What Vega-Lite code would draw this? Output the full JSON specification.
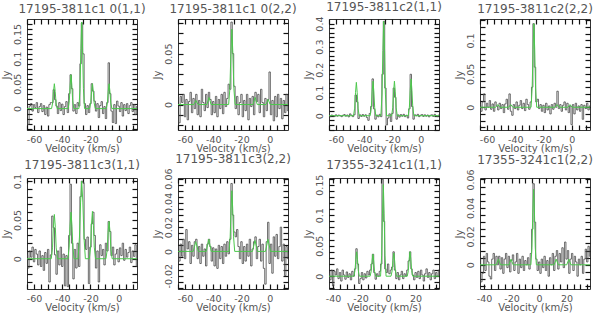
{
"$schema": "https://vega.github.io/schema/vega-lite/v6.json",
"background": "white",
"padding": {"left": 0, "top": 0, "right": 0, "bottom": 0},
"bounds": "flush",
"columns": 4,
"spacing": {"row": 48, "column": 41},
"datasets": {
"s1": [{"v":-65,"a":-0.025},{"v":-64,"a":-0.032},{"v":-63,"a":0.005},{"v":-62,"a":0.01},{"v":-61,"a":-0.005},{"v":-60,"a":0.008},{"v":-59,"a":0.002},{"v":-58,"a":0.012},{"v":-57,"a":-0.008},{"v":-56,"a":0.004},{"v":-55,"a":0.01},{"v":-54,"a":-0.006},{"v":-53,"a":0.006},{"v":-52,"a":-0.012},{"v":-51,"a":0.003},{"v":-50,"a":-0.015},{"v":-49,"a":0.008},{"v":-48,"a":0.012},{"v":-47,"a":0.012},{"v":-46,"a":0.038},{"v":-45,"a":0.018},{"v":-44,"a":0.005},{"v":-43,"a":-0.01},{"v":-42,"a":0.012},{"v":-41,"a":-0.004},{"v":-40,"a":0.009},{"v":-39,"a":-0.012},{"v":-38,"a":0.004},{"v":-37,"a":0.014},{"v":-36,"a":-0.008},{"v":-35,"a":0.03},{"v":-34,"a":0.068},{"v":-33,"a":0.04},{"v":-32,"a":-0.005},{"v":-31,"a":0.008},{"v":-30,"a":-0.01},{"v":-29,"a":0.012},{"v":-28,"a":0.005},{"v":-27,"a":0.09},{"v":-26,"a":0.172},{"v":-25,"a":0.11},{"v":-24,"a":0.01},{"v":-23,"a":-0.012},{"v":-22,"a":0.006},{"v":-21,"a":-0.008},{"v":-20,"a":0.01},{"v":-19,"a":0.05},{"v":-18,"a":0.035},{"v":-17,"a":0.015},{"v":-16,"a":-0.005},{"v":-15,"a":0.01},{"v":-14,"a":-0.018},{"v":-13,"a":0.006},{"v":-12,"a":0.014},{"v":-11,"a":-0.01},{"v":-10,"a":0.004},{"v":-9,"a":-0.02},{"v":-8,"a":0.012},{"v":-7,"a":0.092},{"v":-6,"a":0.03},{"v":-5,"a":-0.005},{"v":-4,"a":-0.028},{"v":-3,"a":0.008},{"v":-2,"a":-0.03},{"v":-1,"a":0.015},{"v":0,"a":0.005},{"v":1,"a":-0.006},{"v":2,"a":0.012},{"v":3,"a":-0.015},{"v":4,"a":0.008},{"v":5,"a":-0.004},{"v":6,"a":0.01},{"v":7,"a":-0.01},{"v":8,"a":0.006},{"v":9,"a":0.012},{"v":10,"a":-0.006},{"v":11,"a":0.008},{"v":12,"a":-0.012},{"v":13,"a":0.004}],
"f1": [{"v":-65,"a":0},{"v":-47.6,"a":0},{"v":-46.8,"a":0.0115},{"v":-46.2,"a":0.0345},{"v":-45.6,"a":0.05},{"v":-45.0,"a":0.0345},{"v":-44.4,"a":0.0115},{"v":-43.6,"a":0},{"v":-35.8,"a":0},{"v":-35.0,"a":0.0156},{"v":-34.4,"a":0.0469},{"v":-33.8,"a":0.068},{"v":-33.2,"a":0.0469},{"v":-32.6,"a":0.0156},{"v":-31.8,"a":0},{"v":-28.2,"a":0},{"v":-27.4,"a":0.04},{"v":-26.8,"a":0.12},{"v":-26.2,"a":0.174},{"v":-25.6,"a":0.12},{"v":-25.0,"a":0.04},{"v":-24.2,"a":0},{"v":-20.6,"a":0},{"v":-19.8,"a":0.0115},{"v":-19.2,"a":0.0345},{"v":-18.6,"a":0.05},{"v":-18.0,"a":0.0345},{"v":-17.4,"a":0.0115},{"v":-16.6,"a":0},{"v":-8.8,"a":0},{"v":-8.0,"a":0.0115},{"v":-7.4,"a":0.0345},{"v":-6.8,"a":0.05},{"v":-6.2,"a":0.0345},{"v":-5.6,"a":0.0115},{"v":-4.8,"a":0},{"v":13,"a":0}],
"s2": [{"v":-65,"a":-0.01},{"v":-64,"a":-0.018},{"v":-63,"a":0.008},{"v":-62,"a":0.002},{"v":-61,"a":0.01},{"v":-60,"a":-0.012},{"v":-59,"a":0.005},{"v":-58,"a":-0.015},{"v":-57,"a":0.003},{"v":-56,"a":0.012},{"v":-55,"a":-0.008},{"v":-54,"a":0.006},{"v":-53,"a":-0.004},{"v":-52,"a":0.01},{"v":-51,"a":-0.01},{"v":-50,"a":0.004},{"v":-49,"a":-0.012},{"v":-48,"a":0.015},{"v":-47,"a":0.002},{"v":-46,"a":-0.006},{"v":-45,"a":0.01},{"v":-44,"a":-0.003},{"v":-43,"a":0.012},{"v":-42,"a":0.005},{"v":-41,"a":-0.01},{"v":-40,"a":0.003},{"v":-39,"a":-0.008},{"v":-38,"a":0.008},{"v":-37,"a":-0.012},{"v":-36,"a":0.005},{"v":-35,"a":-0.004},{"v":-34,"a":0.01},{"v":-33,"a":-0.009},{"v":-32,"a":0.012},{"v":-31,"a":-0.002},{"v":-30,"a":0.006},{"v":-29,"a":0.02},{"v":-28,"a":0.015},{"v":-27,"a":0.081},{"v":-26,"a":0.05},{"v":-25,"a":0.018},{"v":-24,"a":-0.004},{"v":-23,"a":0.008},{"v":-22,"a":-0.01},{"v":-21,"a":0.002},{"v":-20,"a":0.01},{"v":-19,"a":-0.012},{"v":-18,"a":0.004},{"v":-17,"a":-0.006},{"v":-16,"a":0.01},{"v":-15,"a":-0.015},{"v":-14,"a":0.006},{"v":-13,"a":-0.002},{"v":-12,"a":0.008},{"v":-11,"a":-0.01},{"v":-10,"a":0.012},{"v":-9,"a":0.003},{"v":-8,"a":0.01},{"v":-7,"a":-0.008},{"v":-6,"a":0.015},{"v":-5,"a":0.002},{"v":-4,"a":-0.012},{"v":-3,"a":0.006},{"v":-2,"a":-0.006},{"v":-1,"a":0.005},{"v":0,"a":0.032},{"v":1,"a":-0.01},{"v":2,"a":0.004},{"v":3,"a":-0.016},{"v":4,"a":0.008},{"v":5,"a":-0.012},{"v":6,"a":0.01},{"v":7,"a":-0.004},{"v":8,"a":0.006},{"v":9,"a":-0.014},{"v":10,"a":0.004},{"v":11,"a":-0.008},{"v":12,"a":0.01},{"v":13,"a":-0.006}],
"f2": [{"v":-65,"a":0},{"v":-53.8,"a":0},{"v":-52.3,"a":0.004},{"v":-50.8,"a":0},{"v":-44.5,"a":0},{"v":-43,"a":0.007},{"v":-41.5,"a":0},{"v":-29.1,"a":0},{"v":-28.2,"a":0.016},{"v":-27.5,"a":0.05},{"v":-26.8,"a":0.074},{"v":-26.1,"a":0.05},{"v":-25.4,"a":0.016},{"v":-24.5,"a":0},{"v":-11.8,"a":0},{"v":-10.3,"a":0.007},{"v":-8.8,"a":0},{"v":-2.6,"a":0},{"v":-1.1,"a":0.005},{"v":0.4,"a":0},{"v":13,"a":0}],
"s3": [{"v":-65,"a":0.002},{"v":-64,"a":-0.004},{"v":-63,"a":0.003},{"v":-62,"a":0},{"v":-61,"a":-0.003},{"v":-60,"a":0.004},{"v":-59,"a":-0.002},{"v":-58,"a":0.003},{"v":-57,"a":0},{"v":-56,"a":-0.004},{"v":-55,"a":0.002},{"v":-54,"a":0.005},{"v":-53,"a":-0.002},{"v":-52,"a":0.003},{"v":-51,"a":-0.005},{"v":-50,"a":0.008},{"v":-49,"a":0.002},{"v":-48,"a":-0.004},{"v":-47,"a":0.004},{"v":-46,"a":0.09},{"v":-45,"a":0.06},{"v":-44,"a":-0.012},{"v":-43,"a":0.004},{"v":-42,"a":-0.003},{"v":-41,"a":0.005},{"v":-40,"a":-0.002},{"v":-39,"a":0.004},{"v":-38,"a":-0.008},{"v":-37,"a":-0.02},{"v":-36,"a":0.01},{"v":-35,"a":0.04},{"v":-34,"a":0.16},{"v":-33,"a":0.03},{"v":-32,"a":-0.015},{"v":-31,"a":0.003},{"v":-30,"a":-0.005},{"v":-29,"a":0.006},{"v":-28,"a":-0.004},{"v":-27,"a":0.18},{"v":-26,"a":0.41},{"v":-25,"a":0.12},{"v":-24,"a":-0.04},{"v":-23,"a":-0.01},{"v":-22,"a":0.008},{"v":-21,"a":-0.025},{"v":-20,"a":0.01},{"v":-19,"a":0.12},{"v":-18,"a":0.08},{"v":-17,"a":-0.015},{"v":-16,"a":0.004},{"v":-15,"a":-0.006},{"v":-14,"a":0.005},{"v":-13,"a":-0.002},{"v":-12,"a":0.006},{"v":-11,"a":-0.004},{"v":-10,"a":0.002},{"v":-9,"a":-0.01},{"v":-8,"a":0.03},{"v":-7,"a":0.18},{"v":-6,"a":0.04},{"v":-5,"a":-0.015},{"v":-4,"a":0.004},{"v":-3,"a":0},{"v":-2,"a":0.006},{"v":-1,"a":-0.004},{"v":0,"a":0.002},{"v":1,"a":0.005},{"v":2,"a":-0.003},{"v":3,"a":0.004},{"v":4,"a":-0.002},{"v":5,"a":0.003},{"v":6,"a":-0.005},{"v":7,"a":0.002},{"v":8,"a":0.004},{"v":9,"a":-0.003},{"v":10,"a":0.006},{"v":11,"a":0},{"v":12,"a":-0.004},{"v":13,"a":0.003}],
"f3": [{"v":-65,"a":0},{"v":-47.6,"a":0},{"v":-46.8,"a":0.033},{"v":-46.2,"a":0.1},{"v":-45.6,"a":0.145},{"v":-45.0,"a":0.1},{"v":-44.4,"a":0.033},{"v":-43.6,"a":0},{"v":-35.8,"a":0},{"v":-35.0,"a":0.0345},{"v":-34.4,"a":0.1035},{"v":-33.8,"a":0.15},{"v":-33.2,"a":0.1035},{"v":-32.6,"a":0.0345},{"v":-31.8,"a":0},{"v":-28.2,"a":0},{"v":-27.4,"a":0.094},{"v":-26.8,"a":0.283},{"v":-26.2,"a":0.41},{"v":-25.6,"a":0.283},{"v":-25.0,"a":0.094},{"v":-24.2,"a":0},{"v":-20.6,"a":0},{"v":-19.8,"a":0.0345},{"v":-19.2,"a":0.1035},{"v":-18.6,"a":0.15},{"v":-18.0,"a":0.1035},{"v":-17.4,"a":0.0345},{"v":-16.6,"a":0},{"v":-8.8,"a":0},{"v":-8.0,"a":0.037},{"v":-7.4,"a":0.11},{"v":-6.8,"a":0.16},{"v":-6.2,"a":0.11},{"v":-5.6,"a":0.037},{"v":-4.8,"a":0},{"v":13,"a":0}],
"s4": [{"v":-65,"a":0.004},{"v":-64,"a":-0.006},{"v":-63,"a":0.008},{"v":-62,"a":0.02},{"v":-61,"a":-0.004},{"v":-60,"a":0.006},{"v":-59,"a":0},{"v":-58,"a":0.01},{"v":-57,"a":-0.003},{"v":-56,"a":0.005},{"v":-55,"a":-0.006},{"v":-54,"a":0.008},{"v":-53,"a":0.002},{"v":-52,"a":-0.004},{"v":-51,"a":0.006},{"v":-50,"a":-0.002},{"v":-49,"a":0.004},{"v":-48,"a":-0.008},{"v":-47,"a":0.005},{"v":-46,"a":0.012},{"v":-45,"a":-0.003},{"v":-44,"a":0.02},{"v":-43,"a":-0.006},{"v":-42,"a":-0.012},{"v":-41,"a":0.004},{"v":-40,"a":-0.002},{"v":-39,"a":0.008},{"v":-38,"a":-0.004},{"v":-37,"a":0.003},{"v":-36,"a":0.01},{"v":-35,"a":-0.002},{"v":-34,"a":0.006},{"v":-33,"a":-0.005},{"v":-32,"a":0.012},{"v":-31,"a":0.004},{"v":-30,"a":-0.003},{"v":-29,"a":0.008},{"v":-28,"a":0.03},{"v":-27,"a":0.125},{"v":-26,"a":0.06},{"v":-25,"a":0.008},{"v":-24,"a":0.012},{"v":-23,"a":-0.002},{"v":-22,"a":0.004},{"v":-21,"a":-0.006},{"v":-20,"a":0.003},{"v":-19,"a":-0.008},{"v":-18,"a":0.006},{"v":-17,"a":-0.004},{"v":-16,"a":0.002},{"v":-15,"a":-0.01},{"v":-14,"a":0.004},{"v":-13,"a":-0.003},{"v":-12,"a":0.006},{"v":-11,"a":0},{"v":-10,"a":0.024},{"v":-9,"a":-0.002},{"v":-8,"a":0.004},{"v":-7,"a":-0.006},{"v":-6,"a":0.003},{"v":-5,"a":0.008},{"v":-4,"a":-0.004},{"v":-3,"a":0.006},{"v":-2,"a":-0.008},{"v":-1,"a":0.002},{"v":0,"a":-0.026},{"v":1,"a":0.004},{"v":2,"a":-0.01},{"v":3,"a":0.006},{"v":4,"a":-0.004},{"v":5,"a":0.002},{"v":6,"a":-0.006},{"v":7,"a":0.004},{"v":8,"a":-0.018},{"v":9,"a":0.003},{"v":10,"a":-0.002},{"v":11,"a":0.006},{"v":12,"a":-0.004},{"v":13,"a":0.002}],
"f4": [{"v":-65,"a":0},{"v":-53.9,"a":0},{"v":-52.4,"a":0.004},{"v":-50.9,"a":0},{"v":-44.7,"a":0},{"v":-43.2,"a":0.004},{"v":-41.7,"a":0},{"v":-28.8,"a":0},{"v":-28.0,"a":0.029},{"v":-27.4,"a":0.086},{"v":-26.8,"a":0.125},{"v":-26.2,"a":0.086},{"v":-25.6,"a":0.029},{"v":-24.8,"a":0},{"v":-11.9,"a":0},{"v":-10.4,"a":0.004},{"v":-8.9,"a":0},{"v":-2.7,"a":0},{"v":-1.2,"a":0.004},{"v":0.3,"a":0},{"v":13,"a":0}],
"s5": [{"v":-65,"a":0.005},{"v":-64,"a":-0.012},{"v":-63,"a":0.01},{"v":-62,"a":0.002},{"v":-61,"a":0.015},{"v":-60,"a":-0.004},{"v":-59,"a":0.012},{"v":-58,"a":0.006},{"v":-57,"a":-0.008},{"v":-56,"a":0.01},{"v":-55,"a":-0.01},{"v":-54,"a":0.004},{"v":-53,"a":-0.015},{"v":-52,"a":0.008},{"v":-51,"a":-0.006},{"v":-50,"a":0.012},{"v":-49,"a":-0.03},{"v":-48,"a":0.005},{"v":-47,"a":0.055},{"v":-46,"a":0.04},{"v":-45,"a":0.005},{"v":-44,"a":-0.02},{"v":-43,"a":0.01},{"v":-42,"a":-0.008},{"v":-41,"a":0.015},{"v":-40,"a":-0.01},{"v":-39,"a":0.006},{"v":-38,"a":-0.035},{"v":-37,"a":0.004},{"v":-36,"a":-0.036},{"v":-35,"a":0.03},{"v":-34,"a":0.096},{"v":-33,"a":0.02},{"v":-32,"a":-0.026},{"v":-31,"a":0.012},{"v":-30,"a":-0.012},{"v":-29,"a":0.02},{"v":-28,"a":-0.01},{"v":-27,"a":0.08},{"v":-26,"a":0.1},{"v":-25,"a":0.098},{"v":-24,"a":0.025},{"v":-23,"a":0.012},{"v":-22,"a":0.028},{"v":-21,"a":-0.032},{"v":-20,"a":0.015},{"v":-19,"a":0.045},{"v":-18,"a":0.06},{"v":-17,"a":0.03},{"v":-16,"a":-0.012},{"v":-15,"a":0.01},{"v":-14,"a":-0.03},{"v":-13,"a":0.018},{"v":-12,"a":0.004},{"v":-11,"a":0.012},{"v":-10,"a":-0.008},{"v":-9,"a":0.02},{"v":-8,"a":0.01},{"v":-7,"a":0.048},{"v":-6,"a":0.035},{"v":-5,"a":0.004},{"v":-4,"a":0.015},{"v":-3,"a":-0.008},{"v":-2,"a":0.006},{"v":-1,"a":0.012},{"v":0,"a":-0.004},{"v":1,"a":0.014},{"v":2,"a":0.004},{"v":3,"a":0.02},{"v":4,"a":-0.002},{"v":5,"a":0.012},{"v":6,"a":0.002},{"v":7,"a":0.008},{"v":8,"a":0.015},{"v":9,"a":-0.005},{"v":10,"a":0.01},{"v":11,"a":0.003},{"v":12,"a":0.018},{"v":13,"a":-0.01}],
"f5": [{"v":-65,"a":0},{"v":-47.8,"a":0},{"v":-46.9,"a":0.014},{"v":-46.3,"a":0.04},{"v":-45.6,"a":0.057},{"v":-44.9,"a":0.04},{"v":-44.3,"a":0.014},{"v":-43.4,"a":0},{"v":-36.0,"a":0},{"v":-35.1,"a":0.015},{"v":-34.5,"a":0.042},{"v":-33.8,"a":0.06},{"v":-33.1,"a":0.042},{"v":-32.5,"a":0.015},{"v":-31.6,"a":0},{"v":-28.8,"a":0},{"v":-27.8,"a":0.028},{"v":-27.0,"a":0.073},{"v":-26.2,"a":0.1},{"v":-25.4,"a":0.073},{"v":-24.6,"a":0.028},{"v":-23.6,"a":0},{"v":-20.8,"a":0},{"v":-19.9,"a":0.015},{"v":-19.3,"a":0.043},{"v":-18.6,"a":0.061},{"v":-17.9,"a":0.043},{"v":-17.3,"a":0.015},{"v":-16.4,"a":0},{"v":-9.0,"a":0},{"v":-8.1,"a":0.012},{"v":-7.5,"a":0.034},{"v":-6.8,"a":0.048},{"v":-6.1,"a":0.034},{"v":-5.5,"a":0.012},{"v":-4.6,"a":0},{"v":13,"a":0}],
"s6": [{"v":-65,"a":0.004},{"v":-64,"a":-0.008},{"v":-63,"a":0.006},{"v":-62,"a":-0.004},{"v":-61,"a":0.01},{"v":-60,"a":-0.006},{"v":-59,"a":0.018},{"v":-58,"a":0.002},{"v":-57,"a":0.008},{"v":-56,"a":-0.01},{"v":-55,"a":0.005},{"v":-54,"a":-0.004},{"v":-53,"a":0.008},{"v":-52,"a":0.01},{"v":-51,"a":-0.006},{"v":-50,"a":0.004},{"v":-49,"a":-0.01},{"v":-48,"a":0.006},{"v":-47,"a":-0.004},{"v":-46,"a":0.002},{"v":-45,"a":-0.012},{"v":-44,"a":0.006},{"v":-43,"a":0.01},{"v":-42,"a":0.004},{"v":-41,"a":-0.008},{"v":-40,"a":0.003},{"v":-39,"a":-0.012},{"v":-38,"a":0.002},{"v":-37,"a":-0.014},{"v":-36,"a":0.005},{"v":-35,"a":-0.006},{"v":-34,"a":0.004},{"v":-33,"a":-0.01},{"v":-32,"a":0.006},{"v":-31,"a":-0.004},{"v":-30,"a":0.008},{"v":-29,"a":-0.002},{"v":-28,"a":0.01},{"v":-27,"a":0.056},{"v":-26,"a":0.03},{"v":-25,"a":0.016},{"v":-24,"a":0.012},{"v":-23,"a":0.018},{"v":-22,"a":0.004},{"v":-21,"a":-0.006},{"v":-20,"a":0.008},{"v":-19,"a":-0.01},{"v":-18,"a":0.004},{"v":-17,"a":-0.008},{"v":-16,"a":0.006},{"v":-15,"a":-0.004},{"v":-14,"a":0.01},{"v":-13,"a":-0.012},{"v":-12,"a":0.002},{"v":-11,"a":0.008},{"v":-10,"a":0.012},{"v":-9,"a":-0.006},{"v":-8,"a":0.004},{"v":-7,"a":0.01},{"v":-6,"a":-0.008},{"v":-5,"a":0.006},{"v":-4,"a":-0.014},{"v":-3,"a":-0.027},{"v":-2,"a":0.008},{"v":-1,"a":0.024},{"v":0,"a":-0.01},{"v":1,"a":0.006},{"v":2,"a":-0.018},{"v":3,"a":0.012},{"v":4,"a":-0.004},{"v":5,"a":0.014},{"v":6,"a":-0.006},{"v":7,"a":0.004},{"v":8,"a":0.02},{"v":9,"a":-0.008},{"v":10,"a":0.006},{"v":11,"a":-0.02},{"v":12,"a":0.004},{"v":13,"a":-0.006}],
"f6": [{"v":-65,"a":0},{"v":-54.2,"a":0},{"v":-52.4,"a":0.008},{"v":-50.6,"a":0},{"v":-45.0,"a":0},{"v":-43.2,"a":0.01},{"v":-41.4,"a":0},{"v":-28.8,"a":0},{"v":-28.0,"a":0.012},{"v":-27.4,"a":0.035},{"v":-26.8,"a":0.05},{"v":-26.2,"a":0.035},{"v":-25.6,"a":0.012},{"v":-24.8,"a":0},{"v":-12.2,"a":0},{"v":-10.4,"a":0.009},{"v":-8.6,"a":0},{"v":-3.0,"a":0},{"v":-1.2,"a":0.01},{"v":0.6,"a":0},{"v":13,"a":0}],
"s7": [{"v":-43,"a":0.004},{"v":-42,"a":-0.006},{"v":-41,"a":0.01},{"v":-40,"a":-0.016},{"v":-39,"a":0.008},{"v":-38,"a":0.002},{"v":-37,"a":0.012},{"v":-36,"a":-0.004},{"v":-35,"a":0.006},{"v":-34,"a":-0.008},{"v":-33,"a":0.01},{"v":-32,"a":0.002},{"v":-31,"a":-0.005},{"v":-30,"a":0.007},{"v":-29,"a":-0.002},{"v":-28,"a":0.004},{"v":-27,"a":-0.006},{"v":-26,"a":0.008},{"v":-25,"a":0},{"v":-24,"a":0.012},{"v":-23,"a":0.045},{"v":-22,"a":0.02},{"v":-21,"a":-0.012},{"v":-20,"a":-0.004},{"v":-19,"a":0.006},{"v":-18,"a":-0.006},{"v":-17,"a":0.004},{"v":-16,"a":-0.003},{"v":-15,"a":0.008},{"v":-14,"a":0.002},{"v":-13,"a":0.01},{"v":-12,"a":0.02},{"v":-11,"a":0.036},{"v":-10,"a":0.006},{"v":-9,"a":-0.005},{"v":-8,"a":0.004},{"v":-7,"a":0},{"v":-6,"a":0.008},{"v":-5,"a":0.02},{"v":-4,"a":0.159},{"v":-3,"a":0.09},{"v":-2,"a":0.012},{"v":-1,"a":0.006},{"v":0,"a":0.02},{"v":1,"a":0.004},{"v":2,"a":0.01},{"v":3,"a":0.015},{"v":4,"a":0.04},{"v":5,"a":0.01},{"v":6,"a":-0.004},{"v":7,"a":0.006},{"v":8,"a":-0.006},{"v":9,"a":0.002},{"v":10,"a":0.008},{"v":11,"a":-0.004},{"v":12,"a":0.004},{"v":13,"a":0},{"v":14,"a":0.01},{"v":15,"a":0.025},{"v":16,"a":0.04},{"v":17,"a":0.012},{"v":18,"a":0.002},{"v":19,"a":-0.006},{"v":20,"a":0.006},{"v":21,"a":-0.002},{"v":22,"a":0.008},{"v":23,"a":-0.004},{"v":24,"a":0.01},{"v":25,"a":0.002},{"v":26,"a":-0.008},{"v":27,"a":0.004},{"v":28,"a":0.012},{"v":29,"a":-0.002},{"v":30,"a":0.006},{"v":31,"a":-0.006},{"v":32,"a":0.004},{"v":33,"a":0.01},{"v":34,"a":-0.004},{"v":35,"a":0.006},{"v":36,"a":0},{"v":37,"a":0.01}],
"f7": [{"v":-43,"a":0},{"v":-24.9,"a":0},{"v":-24.1,"a":0.0092},{"v":-23.5,"a":0.0276},{"v":-22.9,"a":0.04},{"v":-22.3,"a":0.0276},{"v":-21.7,"a":0.0092},{"v":-20.9,"a":0},{"v":-13.1,"a":0},{"v":-12.3,"a":0.0083},{"v":-11.7,"a":0.0248},{"v":-11.1,"a":0.036},{"v":-10.5,"a":0.0248},{"v":-9.9,"a":0.0083},{"v":-9.1,"a":0},{"v":-5.5,"a":0},{"v":-4.7,"a":0.0345},{"v":-4.1,"a":0.1035},{"v":-3.5,"a":0.15},{"v":-2.9,"a":0.1035},{"v":-2.3,"a":0.0345},{"v":-1.5,"a":0},{"v":2.1,"a":0},{"v":2.9,"a":0.0087},{"v":3.5,"a":0.0262},{"v":4.1,"a":0.038},{"v":4.7,"a":0.0262},{"v":5.3,"a":0.0087},{"v":6.1,"a":0},{"v":13.9,"a":0},{"v":14.7,"a":0.0092},{"v":15.3,"a":0.0276},{"v":15.9,"a":0.04},{"v":16.5,"a":0.0276},{"v":17.1,"a":0.0092},{"v":17.9,"a":0},{"v":37,"a":0}],
"s8": [{"v":-43,"a":0.004},{"v":-42,"a":-0.012},{"v":-41,"a":-0.006},{"v":-40,"a":0.006},{"v":-39,"a":-0.004},{"v":-38,"a":0.008},{"v":-37,"a":0.002},{"v":-36,"a":-0.008},{"v":-35,"a":-0.01},{"v":-34,"a":0.004},{"v":-33,"a":0.008},{"v":-32,"a":-0.004},{"v":-31,"a":0.006},{"v":-30,"a":0},{"v":-29,"a":0.006},{"v":-28,"a":-0.003},{"v":-27,"a":0.005},{"v":-26,"a":-0.006},{"v":-25,"a":0.004},{"v":-24,"a":0.008},{"v":-23,"a":-0.002},{"v":-22,"a":0.006},{"v":-21,"a":-0.005},{"v":-20,"a":0.003},{"v":-19,"a":0.007},{"v":-18,"a":-0.004},{"v":-17,"a":0.002},{"v":-16,"a":0.008},{"v":-15,"a":-0.006},{"v":-14,"a":0.004},{"v":-13,"a":-0.002},{"v":-12,"a":0.006},{"v":-11,"a":-0.004},{"v":-10,"a":0.003},{"v":-9,"a":0},{"v":-8,"a":0.005},{"v":-7,"a":-0.003},{"v":-6,"a":0.008},{"v":-5,"a":0.025},{"v":-4,"a":0.057},{"v":-3,"a":0.03},{"v":-2,"a":0.004},{"v":-1,"a":-0.004},{"v":0,"a":0.002},{"v":1,"a":-0.006},{"v":2,"a":0.004},{"v":3,"a":-0.002},{"v":4,"a":0.006},{"v":5,"a":-0.004},{"v":6,"a":0.003},{"v":7,"a":-0.008},{"v":8,"a":0.005},{"v":9,"a":0},{"v":10,"a":0.008},{"v":11,"a":-0.004},{"v":12,"a":0.006},{"v":13,"a":0.01},{"v":14,"a":-0.003},{"v":15,"a":0.008},{"v":16,"a":0.002},{"v":17,"a":0.012},{"v":18,"a":-0.002},{"v":19,"a":0.016},{"v":20,"a":0.004},{"v":21,"a":0.01},{"v":22,"a":-0.006},{"v":23,"a":0.004},{"v":24,"a":0.008},{"v":25,"a":-0.004},{"v":26,"a":0.006},{"v":27,"a":0.002},{"v":28,"a":-0.008},{"v":29,"a":0.004},{"v":30,"a":0},{"v":31,"a":0.006},{"v":32,"a":-0.006},{"v":33,"a":0.004},{"v":34,"a":0.011},{"v":35,"a":0.002},{"v":36,"a":0.013},{"v":37,"a":0.006}],
"f8": [{"v":-43,"a":0},{"v":-31.1,"a":0},{"v":-29.6,"a":0.004},{"v":-28.1,"a":0},{"v":-21.9,"a":0},{"v":-20.4,"a":0.004},{"v":-18.9,"a":0},{"v":-6.0,"a":0},{"v":-5.2,"a":0.012},{"v":-4.6,"a":0.037},{"v":-4.0,"a":0.053},{"v":-3.4,"a":0.037},{"v":-2.8,"a":0.012},{"v":-2.0,"a":0},{"v":10.9,"a":0},{"v":12.4,"a":0.004},{"v":13.9,"a":0},{"v":20.1,"a":0},{"v":21.6,"a":0.004},{"v":23.1,"a":0},{"v":37,"a":0}]
},
"concat": [
{"title":"17195-3811c1 0(1,1)","width":110,"height":111,"layer":[
{"data":{"name":"s1"},"mark":{"type":"line","interpolate":"step","color":"#474747","strokeWidth":0.8,"clip":true},"encoding":{
"x":{"field":"v","type":"quantitative","scale":{"domain":[-65,13],"nice":false,"zero":false},"axis":{"orient":"bottom","values":[-65,-60,-55,-50,-45,-40,-35,-30,-25,-20,-15,-10,-5,0,5,10],"labelExpr":"datum.value % 20 == 0 ? replace(datum.label,'−','-') : ''","tickSize":-5,"tickColor":"#111","tickWidth":1.2,"title":"Velocity (km/s)"}},
"y":{"field":"a","type":"quantitative","scale":{"domain":[-0.043,0.18],"nice":false,"zero":false},"axis":{"orient":"left","values":[-0.04,-0.03,-0.02,-0.01,0,0.01,0.02,0.03,0.04,0.05,0.06,0.07,0.08,0.09,0.1,0.11,0.12,0.13,0.14,0.15,0.16,0.17],"format":"~g","labelExpr":"abs(datum.value*20-round(datum.value*20))<0.001 ? replace(datum.label,'−','-') : ''","tickSize":-5,"tickColor":"#111","tickWidth":1.2,"title":"Jy"}}}},
{"data":{"name":"f1"},"mark":{"type":"line","color":"#4cc84c","strokeWidth":1,"clip":true},"encoding":{
"x":{"field":"v","type":"quantitative","axis":{"orient":"top","values":[-65,-60,-55,-50,-45,-40,-35,-30,-25,-20,-15,-10,-5,0,5,10],"labels":false,"title":null,"tickSize":-5,"tickColor":"#111","tickWidth":1.2}},
"y":{"field":"a","type":"quantitative","axis":{"orient":"right","values":[-0.04,-0.03,-0.02,-0.01,0,0.01,0.02,0.03,0.04,0.05,0.06,0.07,0.08,0.09,0.1,0.11,0.12,0.13,0.14,0.15,0.16,0.17],"labels":false,"title":null,"tickSize":-5,"tickColor":"#111","tickWidth":1.2}}}}
],"resolve":{"axis":{"x":"independent","y":"independent"}}},
{"title":"17195-3811c1 0(2,2)","width":110,"height":111,"layer":[
{"data":{"name":"s2"},"mark":{"type":"line","interpolate":"step","color":"#474747","strokeWidth":0.8,"clip":true},"encoding":{
"x":{"field":"v","type":"quantitative","scale":{"domain":[-65,13],"nice":false,"zero":false},"axis":{"orient":"bottom","values":[-65,-60,-55,-50,-45,-40,-35,-30,-25,-20,-15,-10,-5,0,5,10],"labelExpr":"datum.value % 20 == 0 ? replace(datum.label,'−','-') : ''","tickSize":-5,"tickColor":"#111","tickWidth":1.2,"title":"Velocity (km/s)"}},
"y":{"field":"a","type":"quantitative","scale":{"domain":[-0.025,0.084],"nice":false,"zero":false},"axis":{"orient":"left","values":[-0.02,-0.01,0,0.01,0.02,0.03,0.04,0.05,0.06,0.07,0.08],"format":"~g","labelExpr":"abs(datum.value*20-round(datum.value*20))<0.001 ? replace(datum.label,'−','-') : ''","tickSize":-5,"tickColor":"#111","tickWidth":1.2,"title":"Jy"}}}},
{"data":{"name":"f2"},"mark":{"type":"line","color":"#4cc84c","strokeWidth":1,"clip":true},"encoding":{
"x":{"field":"v","type":"quantitative","axis":{"orient":"top","values":[-65,-60,-55,-50,-45,-40,-35,-30,-25,-20,-15,-10,-5,0,5,10],"labels":false,"title":null,"tickSize":-5,"tickColor":"#111","tickWidth":1.2}},
"y":{"field":"a","type":"quantitative","axis":{"orient":"right","values":[-0.02,-0.01,0,0.01,0.02,0.03,0.04,0.05,0.06,0.07,0.08],"labels":false,"title":null,"tickSize":-5,"tickColor":"#111","tickWidth":1.2}}}}
],"resolve":{"axis":{"x":"independent","y":"independent"}}},
{"title":"17195-3811c2(1,1)","width":110,"height":111,"layer":[
{"data":{"name":"s3"},"mark":{"type":"line","interpolate":"step","color":"#474747","strokeWidth":0.8,"clip":true},"encoding":{
"x":{"field":"v","type":"quantitative","scale":{"domain":[-65,13],"nice":false,"zero":false},"axis":{"orient":"bottom","values":[-65,-60,-55,-50,-45,-40,-35,-30,-25,-20,-15,-10,-5,0,5,10],"labelExpr":"datum.value % 20 == 0 ? replace(datum.label,'−','-') : ''","tickSize":-5,"tickColor":"#111","tickWidth":1.2,"title":"Velocity (km/s)"}},
"y":{"field":"a","type":"quantitative","scale":{"domain":[-0.062,0.42],"nice":false,"zero":false},"axis":{"orient":"left","values":[-0.06,-0.04,-0.02,0,0.02,0.04,0.06,0.08,0.1,0.12,0.14,0.16,0.18,0.2,0.22,0.24,0.26,0.28,0.3,0.32,0.34,0.36,0.38,0.4],"format":"~g","labelExpr":"abs(datum.value*10-round(datum.value*10))<0.001 ? replace(datum.label,'−','-') : ''","tickSize":-5,"tickColor":"#111","tickWidth":1.2,"title":"Jy"}}}},
{"data":{"name":"f3"},"mark":{"type":"line","color":"#4cc84c","strokeWidth":1,"clip":true},"encoding":{
"x":{"field":"v","type":"quantitative","axis":{"orient":"top","values":[-65,-60,-55,-50,-45,-40,-35,-30,-25,-20,-15,-10,-5,0,5,10],"labels":false,"title":null,"tickSize":-5,"tickColor":"#111","tickWidth":1.2}},
"y":{"field":"a","type":"quantitative","axis":{"orient":"right","values":[-0.06,-0.04,-0.02,0,0.02,0.04,0.06,0.08,0.1,0.12,0.14,0.16,0.18,0.2,0.22,0.24,0.26,0.28,0.3,0.32,0.34,0.36,0.38,0.4],"labels":false,"title":null,"tickSize":-5,"tickColor":"#111","tickWidth":1.2}}}}
],"resolve":{"axis":{"x":"independent","y":"independent"}}},
{"title":"17195-3811c2(2,2)","width":110,"height":111,"layer":[
{"data":{"name":"s4"},"mark":{"type":"line","interpolate":"step","color":"#474747","strokeWidth":0.8,"clip":true},"encoding":{
"x":{"field":"v","type":"quantitative","scale":{"domain":[-65,13],"nice":false,"zero":false},"axis":{"orient":"bottom","values":[-65,-60,-55,-50,-45,-40,-35,-30,-25,-20,-15,-10,-5,0,5,10],"labelExpr":"datum.value % 20 == 0 ? replace(datum.label,'−','-') : ''","tickSize":-5,"tickColor":"#111","tickWidth":1.2,"title":"Velocity (km/s)"}},
"y":{"field":"a","type":"quantitative","scale":{"domain":[-0.034,0.132],"nice":false,"zero":false},"axis":{"orient":"left","values":[-0.03,-0.02,-0.01,0,0.01,0.02,0.03,0.04,0.05,0.06,0.07,0.08,0.09,0.1,0.11,0.12,0.13],"format":"~g","labelExpr":"abs(datum.value*20-round(datum.value*20))<0.001 ? replace(datum.label,'−','-') : ''","tickSize":-5,"tickColor":"#111","tickWidth":1.2,"title":"Jy"}}}},
{"data":{"name":"f4"},"mark":{"type":"line","color":"#4cc84c","strokeWidth":1,"clip":true},"encoding":{
"x":{"field":"v","type":"quantitative","axis":{"orient":"top","values":[-65,-60,-55,-50,-45,-40,-35,-30,-25,-20,-15,-10,-5,0,5,10],"labels":false,"title":null,"tickSize":-5,"tickColor":"#111","tickWidth":1.2}},
"y":{"field":"a","type":"quantitative","axis":{"orient":"right","values":[-0.03,-0.02,-0.01,0,0.01,0.02,0.03,0.04,0.05,0.06,0.07,0.08,0.09,0.1,0.11,0.12,0.13],"labels":false,"title":null,"tickSize":-5,"tickColor":"#111","tickWidth":1.2}}}}
],"resolve":{"axis":{"x":"independent","y":"independent"}}},
{"title":"17195-3811c3(1,1)","width":110,"height":111,"layer":[
{"data":{"name":"s5"},"mark":{"type":"line","interpolate":"step","color":"#474747","strokeWidth":0.8,"clip":true},"encoding":{
"x":{"field":"v","type":"quantitative","scale":{"domain":[-65,13],"nice":false,"zero":false},"axis":{"orient":"bottom","values":[-65,-60,-55,-50,-45,-40,-35,-30,-25,-20,-15,-10,-5,0,5,10],"labelExpr":"datum.value % 20 == 0 ? replace(datum.label,'−','-') : ''","tickSize":-5,"tickColor":"#111","tickWidth":1.2,"title":"Velocity (km/s)"}},
"y":{"field":"a","type":"quantitative","scale":{"domain":[-0.039,0.104],"nice":false,"zero":false},"axis":{"orient":"left","values":[-0.03,-0.02,-0.01,0,0.01,0.02,0.03,0.04,0.05,0.06,0.07,0.08,0.09,0.1],"format":"~g","labelExpr":"abs(datum.value*20-round(datum.value*20))<0.001 ? replace(datum.label,'−','-') : ''","tickSize":-5,"tickColor":"#111","tickWidth":1.2,"title":"Jy"}}}},
{"data":{"name":"f5"},"mark":{"type":"line","color":"#4cc84c","strokeWidth":1,"clip":true},"encoding":{
"x":{"field":"v","type":"quantitative","axis":{"orient":"top","values":[-65,-60,-55,-50,-45,-40,-35,-30,-25,-20,-15,-10,-5,0,5,10],"labels":false,"title":null,"tickSize":-5,"tickColor":"#111","tickWidth":1.2}},
"y":{"field":"a","type":"quantitative","axis":{"orient":"right","values":[-0.03,-0.02,-0.01,0,0.01,0.02,0.03,0.04,0.05,0.06,0.07,0.08,0.09,0.1],"labels":false,"title":null,"tickSize":-5,"tickColor":"#111","tickWidth":1.2}}}}
],"resolve":{"axis":{"x":"independent","y":"independent"}}},
{"title":"17195-3811c3(2,2)","width":110,"height":111,"layer":[
{"data":{"name":"s6"},"mark":{"type":"line","interpolate":"step","color":"#474747","strokeWidth":0.8,"clip":true},"encoding":{
"x":{"field":"v","type":"quantitative","scale":{"domain":[-65,13],"nice":false,"zero":false},"axis":{"orient":"bottom","values":[-65,-60,-55,-50,-45,-40,-35,-30,-25,-20,-15,-10,-5,0,5,10],"labelExpr":"datum.value % 20 == 0 ? replace(datum.label,'−','-') : ''","tickSize":-5,"tickColor":"#111","tickWidth":1.2,"title":"Velocity (km/s)"}},
"y":{"field":"a","type":"quantitative","scale":{"domain":[-0.031,0.0605],"nice":false,"zero":false},"axis":{"orient":"left","values":[-0.03,-0.025,-0.02,-0.015,-0.01,-0.005,0,0.005,0.01,0.015,0.02,0.025,0.03,0.035,0.04,0.045,0.05,0.055,0.06],"format":"~g","labelExpr":"abs(datum.value*50-round(datum.value*50))<0.001 ? replace(datum.label,'−','-') : ''","tickSize":-5,"tickColor":"#111","tickWidth":1.2,"title":"Jy"}}}},
{"data":{"name":"f6"},"mark":{"type":"line","color":"#4cc84c","strokeWidth":1,"clip":true},"encoding":{
"x":{"field":"v","type":"quantitative","axis":{"orient":"top","values":[-65,-60,-55,-50,-45,-40,-35,-30,-25,-20,-15,-10,-5,0,5,10],"labels":false,"title":null,"tickSize":-5,"tickColor":"#111","tickWidth":1.2}},
"y":{"field":"a","type":"quantitative","axis":{"orient":"right","values":[-0.03,-0.025,-0.02,-0.015,-0.01,-0.005,0,0.005,0.01,0.015,0.02,0.025,0.03,0.035,0.04,0.045,0.05,0.055,0.06],"labels":false,"title":null,"tickSize":-5,"tickColor":"#111","tickWidth":1.2}}}}
],"resolve":{"axis":{"x":"independent","y":"independent"}}},
{"title":"17355-3241c1(1,1)","width":110,"height":111,"layer":[
{"data":{"name":"s7"},"mark":{"type":"line","interpolate":"step","color":"#474747","strokeWidth":0.8,"clip":true},"encoding":{
"x":{"field":"v","type":"quantitative","scale":{"domain":[-43,37],"nice":false,"zero":false},"axis":{"orient":"bottom","values":[-40,-35,-30,-25,-20,-15,-10,-5,0,5,10,15,20,25,30,35],"labelExpr":"datum.value % 20 == 0 ? replace(datum.label,'−','-') : ''","tickSize":-5,"tickColor":"#111","tickWidth":1.2,"title":"Velocity (km/s)"}},
"y":{"field":"a","type":"quantitative","scale":{"domain":[-0.021,0.161],"nice":false,"zero":false},"axis":{"orient":"left","values":[-0.02,-0.01,0,0.01,0.02,0.03,0.04,0.05,0.06,0.07,0.08,0.09,0.1,0.11,0.12,0.13,0.14,0.15,0.16],"format":"~g","labelExpr":"abs(datum.value*20-round(datum.value*20))<0.001 ? replace(datum.label,'−','-') : ''","tickSize":-5,"tickColor":"#111","tickWidth":1.2,"title":"Jy"}}}},
{"data":{"name":"f7"},"mark":{"type":"line","color":"#4cc84c","strokeWidth":1,"clip":true},"encoding":{
"x":{"field":"v","type":"quantitative","axis":{"orient":"top","values":[-40,-35,-30,-25,-20,-15,-10,-5,0,5,10,15,20,25,30,35],"labels":false,"title":null,"tickSize":-5,"tickColor":"#111","tickWidth":1.2}},
"y":{"field":"a","type":"quantitative","axis":{"orient":"right","values":[-0.02,-0.01,0,0.01,0.02,0.03,0.04,0.05,0.06,0.07,0.08,0.09,0.1,0.11,0.12,0.13,0.14,0.15,0.16],"labels":false,"title":null,"tickSize":-5,"tickColor":"#111","tickWidth":1.2}}}}
],"resolve":{"axis":{"x":"independent","y":"independent"}}},
{"title":"17355-3241c1(2,2)","width":110,"height":111,"layer":[
{"data":{"name":"s8"},"mark":{"type":"line","interpolate":"step","color":"#474747","strokeWidth":0.8,"clip":true},"encoding":{
"x":{"field":"v","type":"quantitative","scale":{"domain":[-43,37],"nice":false,"zero":false},"axis":{"orient":"bottom","values":[-40,-35,-30,-25,-20,-15,-10,-5,0,5,10,15,20,25,30,35],"labelExpr":"datum.value % 20 == 0 ? replace(datum.label,'−','-') : ''","tickSize":-5,"tickColor":"#111","tickWidth":1.2,"title":"Velocity (km/s)"}},
"y":{"field":"a","type":"quantitative","scale":{"domain":[-0.017,0.061],"nice":false,"zero":false},"axis":{"orient":"left","values":[-0.015,-0.01,-0.005,0,0.005,0.01,0.015,0.02,0.025,0.03,0.035,0.04,0.045,0.05,0.055,0.06],"format":"~g","labelExpr":"abs(datum.value*50-round(datum.value*50))<0.001 ? replace(datum.label,'−','-') : ''","tickSize":-5,"tickColor":"#111","tickWidth":1.2,"title":"Jy"}}}},
{"data":{"name":"f8"},"mark":{"type":"line","color":"#4cc84c","strokeWidth":1,"clip":true},"encoding":{
"x":{"field":"v","type":"quantitative","axis":{"orient":"top","values":[-40,-35,-30,-25,-20,-15,-10,-5,0,5,10,15,20,25,30,35],"labels":false,"title":null,"tickSize":-5,"tickColor":"#111","tickWidth":1.2}},
"y":{"field":"a","type":"quantitative","axis":{"orient":"right","values":[-0.015,-0.01,-0.005,0,0.005,0.01,0.015,0.02,0.025,0.03,0.035,0.04,0.045,0.05,0.055,0.06],"labels":false,"title":null,"tickSize":-5,"tickColor":"#111","tickWidth":1.2}}}}
],"resolve":{"axis":{"x":"independent","y":"independent"}}}
],
"config": {
"view": {"stroke": "#333", "strokeWidth": 1},
"axis": {"domain": false, "grid": false, "labelFont": "DejaVu Sans", "labelFontSize": 9.5, "labelColor": "#555", "titleFont": "DejaVu Sans", "titleFontSize": 10, "titleFontWeight": "normal", "titleColor": "#555", "labelOverlap": false, "labelFlush": false},
"axisBottom": {"labelPadding": 9, "titlePadding": 0},
"axisLeft": {"labelPadding": 10, "titlePadding": 1, "labelAngle": -90, "labelAlign": "center", "labelBaseline": "bottom"},
"title": {"font": "DejaVu Sans", "fontSize": 12, "fontWeight": "normal", "color": "#555", "offset": 2}
}
}
